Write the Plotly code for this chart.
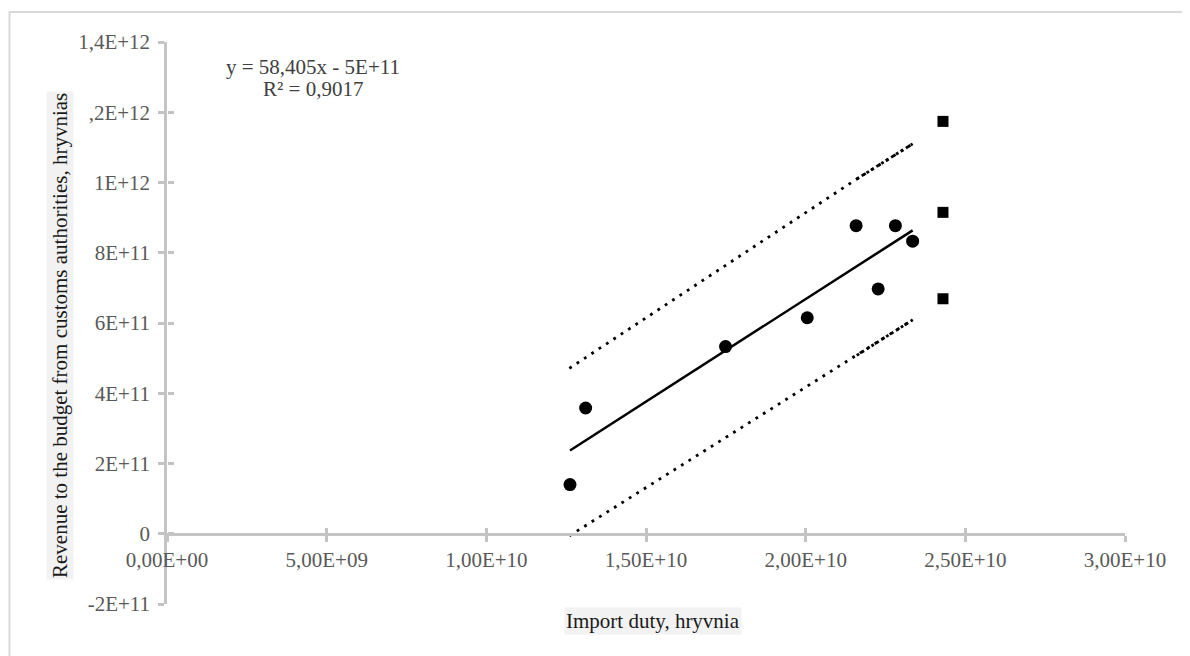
import plotly.graph_objects as go

# ---- data ----
duty = [12.62e9, 13.11e9, 17.49e9, 20.05e9, 21.58e9, 22.27e9, 22.81e9, 23.35e9]
revenue = [1.40e11, 3.58e11, 5.33e11, 6.15e11, 8.77e11, 6.97e11, 8.77e11, 8.33e11]

forecast_x = [24.3e9, 24.3e9, 24.3e9]
forecast_y = [11.74e11, 9.15e11, 6.69e11]

slope = 58.405
intercept = -5e11

band_x = [12.6e9, 21.6e9, 23.35e9]
band_upper = [4.71e11, 10.1e11, 11.10e11]
band_lower = [-0.06e11, 5.08e11, 6.09e11]

x_tickvals = [0, 5e9, 1e10, 1.5e10, 2e10, 2.5e10, 3e10]
x_ticktext = ["0,00E+00", "5,00E+09", "1,00E+10", "1,50E+10", "2,00E+10", "2,50E+10", "3,00E+10"]
y_tickvals = [-2e11, 0, 2e11, 4e11, 6e11, 8e11, 1e12, 1.2e12, 1.4e12]
y_ticktext = ["-2E+11", "0", "2E+11", "4E+11", "6E+11", "8E+11", "1E+12", ",2E+12", "1,4E+12"]

equation_text = "y = 58,405x - 5E+11"
r2_text = "R² = 0,9017"
x_title = "Import duty, hryvnia"
y_title = "Revenue to the budget from customs authorities, hryvnias"

# ---- styling ----
FONT = "Liberation Serif"
AX = "#c4c4c4"
TICKC = "#595959"
X_RANGE = [0, 3e10]
Y_RANGE = [-2e11, 1.4e12]
Y0_POS = (0 - Y_RANGE[0]) / (Y_RANGE[1] - Y_RANGE[0])

# page body has an 8px offset; compensate in margins
OFF = 8
PL, PR, PT, PB = 167, 1125, 42, 604  # target plot area in window pixels
ML = PL - OFF
MT = PT - OFF
MR = 1190 - (PR - OFF)
MB = 656 - (PB - OFF)

trend_x = [min(duty), max(duty)]
trend_y = [slope * v + intercept for v in trend_x]

fig = go.Figure()

# confidence band (dotted)
for ys in (band_upper, band_lower):
    fig.add_trace(go.Scatter(x=band_x, y=ys, mode="lines",
                             line=dict(color="black", width=2.8, dash="2.8px,6px"), hoverinfo="skip"))
    fig.add_trace(go.Scatter(x=band_x[1:], y=ys[1:], mode="lines",
                             line=dict(color="black", width=2.8, dash="2.8px,3px"), hoverinfo="skip"))

# trend line
fig.add_trace(go.Scatter(x=trend_x, y=trend_y, mode="lines",
                         line=dict(color="black", width=2.5)))

# observed points
fig.add_trace(go.Scatter(x=duty, y=revenue, mode="markers",
                         marker=dict(symbol="circle", size=13, color="black")))

# forecast points
fig.add_trace(go.Scatter(x=forecast_x, y=forecast_y, mode="markers",
                         marker=dict(symbol="square", size=11, color="black")))

# dummy trace for overlay axes (inside half of cross ticks)
fig.add_trace(go.Scatter(x=[], y=[], xaxis="x2", yaxis="y2", mode="markers"))

common = dict(showgrid=False, zeroline=False, tickcolor=AX, tickwidth=2.5, ticklen=6)
TF = dict(family=FONT, size=21, color=TICKC)

fig.update_layout(
    width=1190, height=656,
    margin=dict(l=ML, r=MR, t=MT, b=MB),
    paper_bgcolor="white", plot_bgcolor="white",
    showlegend=False,
    font=dict(family=FONT, size=21, color=TICKC),
    xaxis=dict(range=X_RANGE, tickvals=x_tickvals, ticktext=x_ticktext,
               anchor="free", position=Y0_POS, ticks="outside",
               showline=True, linecolor=AX, linewidth=2.5,
               tickfont=TF, ticklabelstandoff=0, **common),
    yaxis=dict(range=Y_RANGE, tickvals=y_tickvals, ticktext=y_ticktext,
               ticks="outside", showline=True, linecolor=AX, linewidth=2.5,
               tickfont=TF, ticklabelstandoff=4, **common),
    xaxis2=dict(range=X_RANGE, tickvals=x_tickvals, overlaying="x",
                anchor="free", position=Y0_POS, ticks="inside",
                showticklabels=False, showline=False, **common),
    yaxis2=dict(range=Y_RANGE, tickvals=y_tickvals, overlaying="y",
                anchor="free", position=0, side="left", ticks="inside",
                showticklabels=False, showline=False, **common),
)

W = PR - PL
H = PB - PT


def px(xp):
    return (xp - PL) / W


def py(yp):
    return (PB - yp) / H


fig.add_annotation(xref="paper", yref="paper", x=px(313), y=py(67),
                   xanchor="center", yanchor="middle",
                   text=equation_text, showarrow=False,
                   font=dict(family=FONT, size=21, color="#404040"))
fig.add_annotation(xref="paper", yref="paper", x=px(313), y=py(89),
                   xanchor="center", yanchor="middle",
                   text=r2_text, showarrow=False,
                   font=dict(family=FONT, size=21, color="#404040"))

fig.add_annotation(xref="paper", yref="paper", x=px(653), y=py(621),
                   xanchor="center", yanchor="middle",
                   text=x_title, showarrow=False, bgcolor="#f2f2f2", borderpad=1,
                   font=dict(family=FONT, size=21, color="#1a1a1a"))
fig.add_annotation(xref="paper", yref="paper", x=px(60), y=py(336),
                   xanchor="center", yanchor="middle",
                   text=y_title, showarrow=False, textangle=-90, bgcolor="#f2f2f2", borderpad=1,
                   font=dict(family=FONT, size=21, color="#1a1a1a"))

# outer chart frame (top and left edges visible in the reference)
fig.add_shape(type="rect", xref="paper", yref="paper",
              x0=px(9.5), x1=px(1220), y0=py(690), y1=py(12),
              line=dict(color="#d9d9d9", width=2), layer="below")

fig.write_html("out.html")
